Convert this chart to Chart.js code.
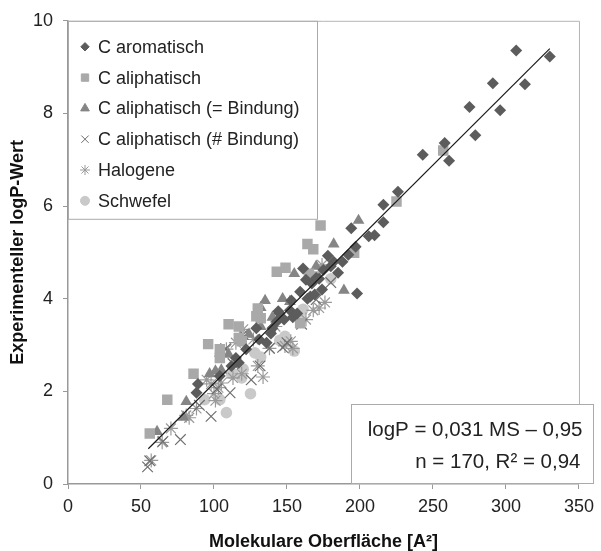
<!DOCTYPE html>
<html>
<head>
<meta charset="utf-8">
<script src="https://cdn.jsdelivr.net/npm/chart.js@4.4.1/dist/chart.umd.min.js"></script>
<style>
  html, body { margin: 0; padding: 0; background: #fff; }
  #wrap { width: 601px; height: 551px; }
</style>
</head>
<body>
<div id="wrap"><canvas id="scatter"></canvas></div>
<script>
const seriesNames = ['C aromatisch', 'C aliphatisch', 'C aliphatisch (= Bindung)', 'C aliphatisch (# Bindung)', 'Halogene', 'Schwefel'];

const aromatisch = [[307,9.36],[330,9.23],[291,8.65],[313,8.63],[275,8.14],[296,8.07],[279,7.53],[243,7.11],[258,7.36],[261,6.98],
  [226,6.31],[216,6.03],[216,5.65],[210,5.37],[206,5.35],[194,5.52],[197,5.12],[178,4.93],[182,4.80],[188,4.80],
  [185,4.56],[161,4.65],[163,4.41],[167,4.33],[172,4.43],[174,4.20],[198,4.11],[159,4.15],[166,4.05],[153,3.96],
  [144,3.73],[152,3.75],[154,3.60],[143,3.51],[140,3.36],[145,3.68],[157,3.68],[164,4.00],[169,4.09],[129,3.36],
  [89,2.16],[88,1.97],[104,2.33],[115,2.72],[122,2.91],[131,3.12],[139,3.25],[112,2.55],[117,2.62],[175,4.62],
  [180,4.70],[192,4.95],[170,4.45],[148,3.55],[136,3.05]];
const aliphatisch = [[257,7.20],[225,6.10],[173,5.58],[164,5.18],[168,5.07],[196,4.99],[143,4.58],[149,4.67],[165,4.54],[170,4.48],
  [130,3.79],[132,3.58],[129,3.62],[110,3.45],[117,3.40],[117,3.15],[119,3.08],[96,3.02],[104,2.91],[104,2.72],
  [86,2.38],[68,1.82],[56,1.09],[159,3.47]];
const doppelBindung = [[199,5.69],[182,5.18],[155,4.54],[189,4.18],[147,4.00],[135,3.96],[132,3.81],[132,3.40],[124,3.23],[152,3.94],
  [97,2.38],[101,2.44],[105,2.46],[81,1.78],[79,1.44],[61,1.13],[104,2.82],[170,4.70],[140,3.60],[110,2.80]];
const dreifachBindung = [[54.5,0.37],[56,0.50],[77,0.96],[98,1.46],[111,1.97],[125.5,2.25],[131.6,2.55],[120,3.23],[147,2.95],[65,0.92],
  [113,2.60],[138,2.93],[150,3.05],[170,3.98],[102,2.05],[90,1.70],[160,3.45],[180,4.35],[108,2.92]];
const halogene = [[57,0.51],[64.5,0.90],[70.5,1.20],[81,1.48],[83,1.43],[88,1.63],[100,1.95],[101,1.80],[98,2.16],[103,2.08],
  [105,2.18],[113,2.29],[119,2.38],[133.6,2.31],[130,2.55],[108.5,2.91],[120,3.34],[138,2.93],[148.6,2.98],[152.6,3.08],
  [154,2.93],[168,3.75],[176,3.92],[163,3.55],[174,4.73],[172,3.80],[115,3.05],[127,3.12],[142,3.40],[95,2.25]];
const schwefel = [[108.5,1.54],[93.6,1.82],[104,1.82],[125,1.95],[112,2.38],[119,2.29],[120,2.48],[128,2.83],[132,2.74],[148.6,3.19],
  [155,2.87],[161,3.77],[159.6,3.55],[180,4.43],[113,2.38],[145,3.10]];
const trendLine = [[55,0.76],[330,9.40]];

const xTicks = [0, 50, 100, 150, 200, 250, 300, 350];
const yTicks = [0, 2, 4, 6, 8, 10];
const statsText = ['logP = 0,031 MS \u2013 0,95', 'n = 170, R\u00b2 = 0,94'];

const FONT = "'Liberation Sans', Arial, Helvetica, sans-serif";
const pts = arr => arr.map(p => ({ x: p[0], y: p[1] }));

const styles = [
  { pointStyle: 'rectRot', radius: 6, fill: '#5c5c5c', stroke: '#5c5c5c', lr: 4.2 },
  { pointStyle: 'rect', radius: 7.4, fill: '#a9a9a9', stroke: '#a9a9a9', lr: 5.2 },
  { pointStyle: 'triangle', radius: 6.8, fill: '#858585', stroke: '#858585', lr: 5 },
  { pointStyle: 'crossRot', radius: 7.5, fill: '#6e6e6e', stroke: '#6e6e6e', lr: 5.2 },
  { pointStyle: 'star', radius: 7, fill: '#9a9a9a', stroke: '#9a9a9a', lr: 5 },
  { pointStyle: 'circle', radius: 5.8, fill: '#c9c9c9', stroke: '#c9c9c9', lr: 4.5 }
];
const seriesData = [aromatisch, aliphatisch, doppelBindung, dreifachBindung, halogene, schwefel];

const datasets = [{
  type: 'line',
  label: 'Trend',
  data: pts(trendLine),
  borderColor: '#1a1a1a',
  borderWidth: 1.2,
  pointRadius: 0,
  fill: false
}];
seriesNames.forEach((name, i) => {
  const s = styles[i];
  datasets.push({
    label: name,
    data: pts(seriesData[i]),
    pointStyle: s.pointStyle,
    pointRadius: s.radius,
    pointBackgroundColor: s.fill,
    pointBorderColor: s.stroke,
    pointBorderWidth: (s.pointStyle === 'crossRot' || s.pointStyle === 'star') ? 1.2 : 0
  });
});

const boxesPlugin = {
  id: 'boxes',
  beforeDatasetsDraw(chart) {
    const { ctx, chartArea: a } = chart;
    ctx.save();
    ctx.strokeStyle = '#b4b4b4';
    ctx.lineWidth = 1;
    ctx.beginPath();
    ctx.moveTo(a.left, a.top + 0.5);
    ctx.lineTo(a.right + 0.5, a.top + 0.5);
    ctx.lineTo(a.right + 0.5, a.bottom);
    ctx.stroke();
    ctx.restore();
  },
  afterDraw(chart) {
    const { ctx, chartArea: a } = chart;
    ctx.save();
    // legend box
    ctx.fillStyle = '#fff';
    ctx.strokeStyle = '#aaaaaa';
    ctx.lineWidth = 1;
    ctx.fillRect(a.left + 1, a.top + 1, 249, 197);
    ctx.strokeRect(a.left + 0.5, a.top + 0.5, 249, 198);
    ctx.font = '18px ' + FONT;
    ctx.textBaseline = 'middle';
    ctx.textAlign = 'left';
    seriesNames.forEach((name, i) => {
      const s = styles[i];
      const y = a.top + 26 + i * 30.8;
      ctx.fillStyle = s.fill;
      ctx.strokeStyle = s.stroke;
      ctx.lineWidth = 1;
      Chart.helpers.drawPoint(ctx, { pointStyle: s.pointStyle, radius: s.lr, rotation: 0, borderWidth: 1 }, a.left + 17, y);
      ctx.fillStyle = '#222';
      ctx.fillText(name, a.left + 30, y + 1);
    });
    // stats box
    const bx = 351.5, by = 404.5, bw = 242, bh = 79;
    ctx.fillStyle = '#fff';
    ctx.fillRect(bx, by, bw, bh);
    ctx.strokeStyle = '#aaaaaa';
    ctx.strokeRect(bx, by, bw, bh);
    ctx.fillStyle = '#222';
    ctx.font = '20.5px ' + FONT;
    ctx.textAlign = 'right';
    ctx.fillText(statsText[0], bx + bw - 11, by + 26);
    ctx.fillText(statsText[1], bx + bw - 13, by + 58);
    ctx.restore();
  }
};

const ctx = document.getElementById('scatter').getContext('2d');
new Chart(ctx, {
  type: 'scatter',
  data: { datasets },
  plugins: [boxesPlugin],
  options: {
    responsive: true,
    maintainAspectRatio: false,
    animation: false,
    layout: { padding: { left: 0, top: 17, right: 17, bottom: 0 } },
    plugins: {
      legend: { display: false },
      tooltip: { enabled: false }
    },
    scales: {
      x: {
        type: 'linear',
        min: 0,
        max: 350,
        afterBuildTicks: s => { s.ticks = xTicks.map(v => ({ value: v })); },
        afterFit: s => { s.height = 67; },
        grid: { display: true, drawOnChartArea: false, drawTicks: true, tickLength: 5, color: '#999' },
        border: { display: true, color: '#999', width: 1.5 },
        ticks: { color: '#222', font: { family: FONT, size: 18 }, padding: 7, maxRotation: 0, autoSkip: false },
        title: {
          display: true,
          text: 'Molekulare Oberfläche [A²]',
          color: '#111',
          font: { family: FONT, size: 18, weight: 'bold' },
          padding: { top: 0, bottom: -2 }
        }
      },
      y: {
        type: 'linear',
        min: 0,
        max: 10,
        afterBuildTicks: s => { s.ticks = yTicks.map(v => ({ value: v })); },
        afterFit: s => { s.width = 68; },
        grid: { display: true, drawOnChartArea: false, drawTicks: true, tickLength: 5, color: '#999' },
        border: { display: true, color: '#999', width: 1.5 },
        ticks: { color: '#222', font: { family: FONT, size: 18 }, padding: 10 },
        title: {
          display: true,
          text: 'Experimenteller logP-Wert',
          color: '#111',
          font: { family: FONT, size: 18, weight: 'bold' },
          padding: { top: 7, bottom: 0 }
        }
      }
    }
  }
});
</script>
</body>
</html>
